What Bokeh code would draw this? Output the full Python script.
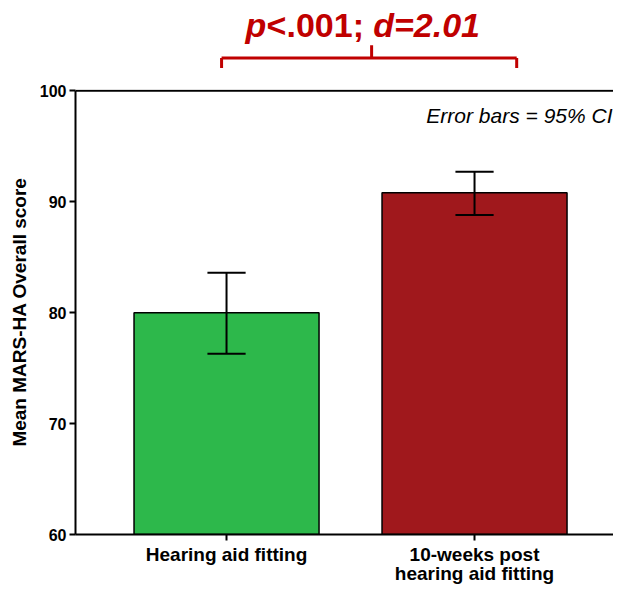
from bokeh.plotting import figure
from bokeh.layouts import column
from bokeh.models import Range1d, FixedTicker, Span, ColumnDataSource
from bokeh.core.properties import value
from bokeh.embed import file_html
from bokeh.resources import INLINE

# ---- data ----
categories = ["Hearing aid fitting", "10-weeks post\nhearing aid fitting"]
means = [80.0, 90.8]
ci_low = [76.3, 88.8]
ci_high = [83.6, 92.7]
bar_colors = ["#2DB84B", "#A0181C"]
y_ticks = [60, 70, 80, 90, 100]
stat_parts = ["p", "<.001; ", "d=2.01"]
note_text = "Error bars = 95% CI"

# ---- annotation geometry (category-position units / score units) ----
bracket_left, bracket_mid, bracket_right = 0.98, 1.585, 2.17
bracket_y, bracket_leg_y, bracket_tick_y = 102.95, 102.05, 104.1
stat_y = 105.95
note_y = 97.75

FONT = "Liberation Sans"
RED = "#C00000"
PX_PER_UNIT = 11.1
FRAME_W = 538
LEFT = 75
TOP_H = 80
GAP = 9
Y_END = 100.12

xs = [i + 1 for i in range(len(categories))]
src = ColumnDataSource(dict(x=xs, top=means, lo=ci_low, hi=ci_high, color=bar_colors))

x_start = 0.391
x_end = x_start + FRAME_W / 248.0
xr = Range1d(x_start, x_end)

# ---------- top strip: significance bracket ----------
ty0 = Y_END + GAP / PX_PER_UNIT
top = figure(x_range=xr, y_range=Range1d(ty0, ty0 + TOP_H / PX_PER_UNIT),
             frame_width=FRAME_W, frame_height=TOP_H,
             x_axis_location=None, y_axis_location=None,
             min_border_left=LEFT, min_border_right=0, min_border_top=0, min_border_bottom=0,
             output_backend="svg", toolbar_location=None)
top.outline_line_color = None
top.xgrid.visible = False
top.ygrid.visible = False

top.segment(x0=[bracket_left, bracket_left, bracket_right, bracket_mid],
            x1=[bracket_right, bracket_left, bracket_right, bracket_mid],
            y0=[bracket_y] * 4,
            y1=[bracket_y, bracket_leg_y, bracket_leg_y, bracket_tick_y],
            line_color=RED, line_width=3)

offsets = [-126, -105, 1.6]
styles = ["bold italic", "bold", "bold italic"]
for part, off, st in zip(stat_parts, offsets, styles):
    top.text(x=[bracket_mid], y=[stat_y], text=[part], x_offset=off,
             text_font=value(FONT), text_font_style=st, text_font_size="34px",
             text_color=RED, text_align="left", text_baseline="middle")

# ---------- main chart ----------
p = figure(x_range=xr, y_range=Range1d(60, Y_END),
           frame_width=FRAME_W, frame_height=round((Y_END - 60) * PX_PER_UNIT),
           min_border_left=LEFT, min_border_right=0, min_border_top=GAP, min_border_bottom=0,
           output_backend="svg", toolbar_location=None)
p.outline_line_color = None
p.xgrid.visible = False
p.ygrid.visible = False

ya = p.yaxis[0]
ya.bounds = (60, 100)
ya.ticker = FixedTicker(ticks=y_ticks)
ya.major_tick_out = 6
ya.major_tick_in = 0
ya.minor_tick_line_color = None
ya.axis_line_width = 2
ya.major_tick_line_width = 2
ya.major_label_text_font = FONT
ya.major_label_text_font_style = "bold"
ya.major_label_text_font_size = "16px"
ya.major_label_text_color = "black"
ya.major_label_standoff = 3
ya.axis_label = "Mean MARS-HA Overall score"
ya.axis_label_text_font = FONT
ya.axis_label_text_font_style = "bold"
ya.axis_label_text_font_size = "19px"
ya.axis_label_text_color = "black"
ya.axis_label_standoff = 7

xa = p.xaxis[0]
xa.ticker = FixedTicker(ticks=xs)
xa.major_label_overrides = {x: c for x, c in zip(xs, categories)}
xa.major_tick_out = 6
xa.major_tick_in = 0
xa.minor_tick_line_color = None
xa.axis_line_width = 2
xa.major_tick_line_width = 2
xa.major_label_text_font = FONT
xa.major_label_text_font_style = "bold"
xa.major_label_text_font_size = "19px"
xa.major_label_text_color = "black"
xa.major_label_text_line_height = 0.95
xa.major_label_standoff = 3

# top frame line
p.add_layout(Span(location=y_ticks[-1], dimension="width", line_color="black", line_width=2))

# bars
p.vbar(x="x", top="top", bottom=y_ticks[0], width=0.746, fill_color="color",
       line_color="black", line_width=1.5, source=src)

# error bars
cap = 0.077
p.segment(x0="x", x1="x", y0="lo", y1="hi", line_color="black", line_width=2, source=src)
p.segment(x0=[x - cap for x in xs] * 2, x1=[x + cap for x in xs] * 2,
          y0=ci_low + ci_high, y1=ci_low + ci_high, line_color="black", line_width=2)

p.text(x=[x_end], y=[note_y], text=[note_text], x_offset=-1,
       text_font=value(FONT), text_font_style="italic", text_font_size="21px",
       text_color="black", text_align="right", text_baseline="middle")

layout = column(top, p, spacing=0)
open("out.html", "w").write(file_html(layout, INLINE))
